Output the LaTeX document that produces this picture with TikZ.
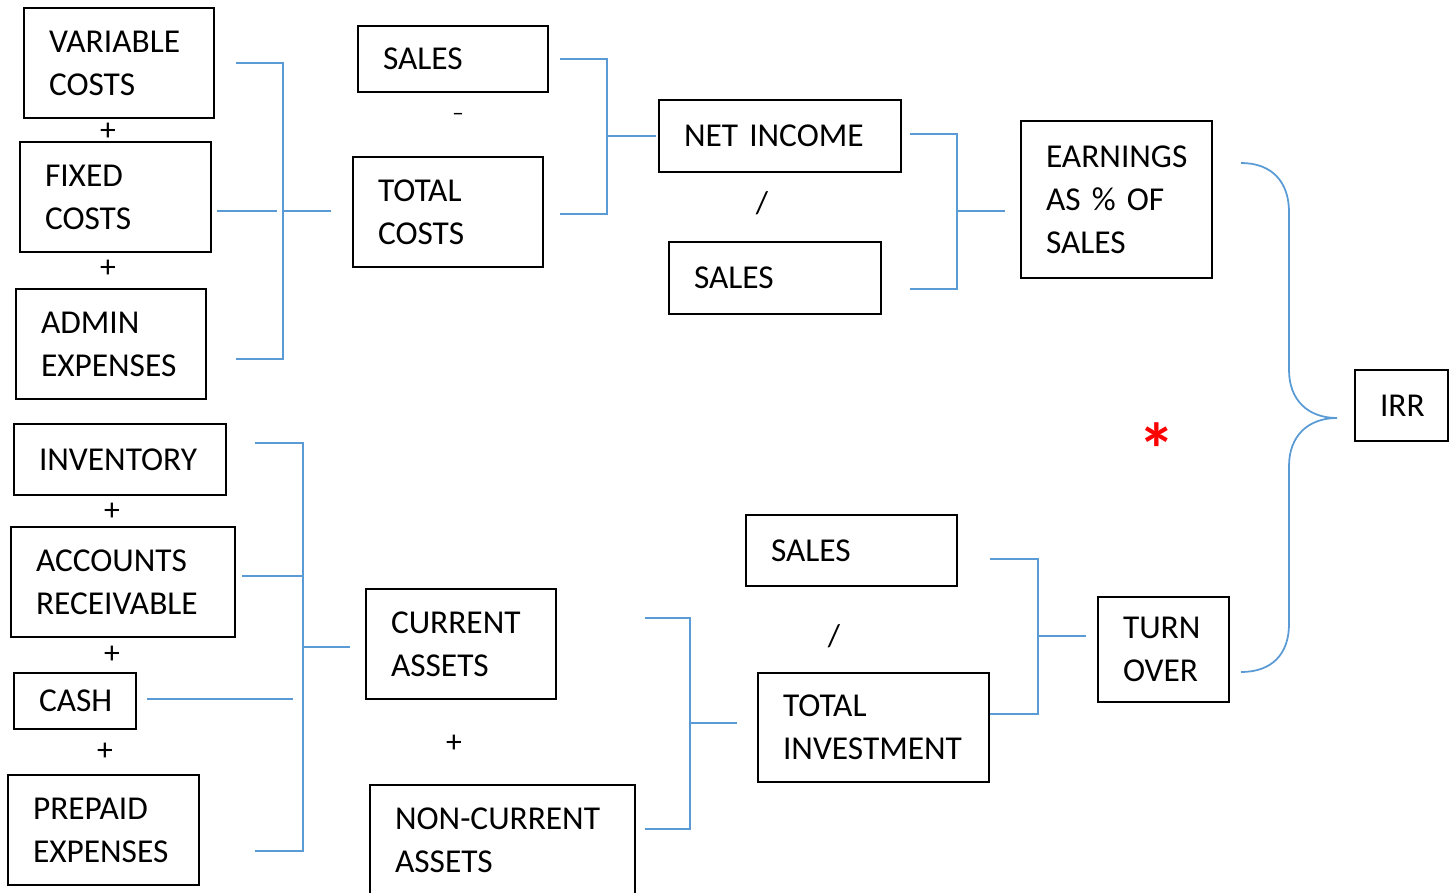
\documentclass[tikz,border=0pt]{standalone}
\usepackage{fontspec}
\setmainfont{Carlito}
\usepackage{tikz}

\definecolor{linkblue}{RGB}{91,155,213}

\tikzset{
  box/.style={draw, line width=1.2pt, inner xsep=0.5cm, inner ysep=0pt, align=left,
    font=\fontsize{19}{24.4}\selectfont},
  op/.style={font=\fontsize{18}{18}\selectfont, inner sep=0pt},
  link/.style={draw=linkblue, line width=1pt}
}

\begin{document}
\begin{tikzpicture}[x=0.02cm,y=-0.02cm]

\useasboundingbox (0,0) rectangle (1449,892);

% cost side
\node [box, text width=2.8cm, minimum height=2.2cm] (var) at (119,63) {VARIABLE\\COSTS};
\node [box, text width=2.82cm, minimum height=2.2cm] (fix) at (115.5,197) {FIXED\\COSTS};
\node [box, text width=2.8cm, minimum height=2.2cm] (adm) at (111,344) {ADMIN\\EXPENSES};
\node [op] (p1) at (108,132) {+};
\node [op] (p2) at (108,269) {+};

\node [box, text width=2.8cm, minimum height=1.32cm] (sal1) at (453,59) {SALES};
\node [box, text width=2.8cm, minimum height=2.2cm] (tc) at (448,212) {TOTAL\\COSTS};
\node [op] (m1) at (458,117) {\fontsize{13}{13}\selectfont\textendash};

\node [box, text width=3.84cm, minimum height=1.44cm] (ni) at (780,136) {NET INCOME};
\node [box, text width=3.24cm, minimum height=1.44cm] (sal2) at (775,278) {SALES};
\node [op] (d1) at (762,203) {/};

\node [box, text width=2.82cm, minimum height=3.14cm] (earn) at (1116.5,199.5) {EARNINGS\\AS \% OF\\SALES};

\node [box, text width=0.86cm, minimum height=1.42cm] (irr) at (1401.5,405.5) {IRR};
\node [op, text=red, font=\fontsize{42}{42}\selectfont\bfseries] (star) at (1157,449) {*};

% investment side
\node [box, text width=3.24cm, minimum height=1.42cm] (inv) at (120,459.5) {INVENTORY};
\node [box, text width=3.48cm, minimum height=2.2cm] (ar) at (123,582) {ACCOUNTS\\RECEIVABLE};
\node [box, text width=1.44cm, minimum height=1.12cm] (cash) at (75,701) {CASH};
\node [box, text width=2.82cm, minimum height=2.2cm] (pre) at (103.5,830) {PREPAID\\EXPENSES};
\node [op] (p3) at (112,512) {+};
\node [op] (p4) at (112,655) {+};
\node [op] (p5) at (105,752) {+};

\node [box, text width=2.8cm, minimum height=2.2cm] (ca) at (461,644) {CURRENT\\ASSETS};
\node [box, text width=4.3cm, minimum height=2.22cm] (nca) at (502.5,840.5) {\mbox{NON-CURRENT}\\ASSETS};
\node [op] (p6) at (454,744) {+};

\node [box, text width=3.22cm, minimum height=1.42cm] (sal3) at (851.5,550.5) {SALES};
\node [box, text width=3.62cm, minimum height=2.18cm] (ti) at (873.5,727.5) {TOTAL\\INVESTMENT};
\node [op] (d2) at (834,636) {/};

\node [box, text width=1.62cm, minimum height=2.1cm] (to) at (1163.5,649.5) {TURN\\OVER};

% brackets
\draw [link] (236,63)--(283,63)--(283,359)--(236,359);
\draw [link] (217,211)--(277,211);
\draw [link] (283,211)--(331,211);

\draw [link] (560,59)--(607,59)--(607,214)--(560,214);
\draw [link] (607,136)--(656,136);

\draw [link] (910,134)--(957,134)--(957,289)--(910,289);
\draw [link] (957,211)--(1005,211);

\draw [link] (255,443)--(303,443)--(303,851)--(255,851);
\draw [link] (242,576)--(303,576);
\draw [link] (147,699)--(293,699);
\draw [link] (303,647)--(350,647);

\draw [link] (645,618)--(690,618)--(690,829)--(645,829);
\draw [link] (690,723)--(737,723);

\draw [link] (990,559)--(1038,559)--(1038,714)--(990,714);
\draw [link] (1038,636)--(1086,636);

% brace into IRR
\draw [link] (1241,163) .. controls (1272,163) and (1289,182) .. (1289,212) -- (1289,370)
  .. controls (1289,400) and (1308,418) .. (1337,418)
  .. controls (1308,418) and (1289,436) .. (1289,466) -- (1289,624)
  .. controls (1289,654) and (1272,672) .. (1241,672);

\end{tikzpicture}
\end{document}
